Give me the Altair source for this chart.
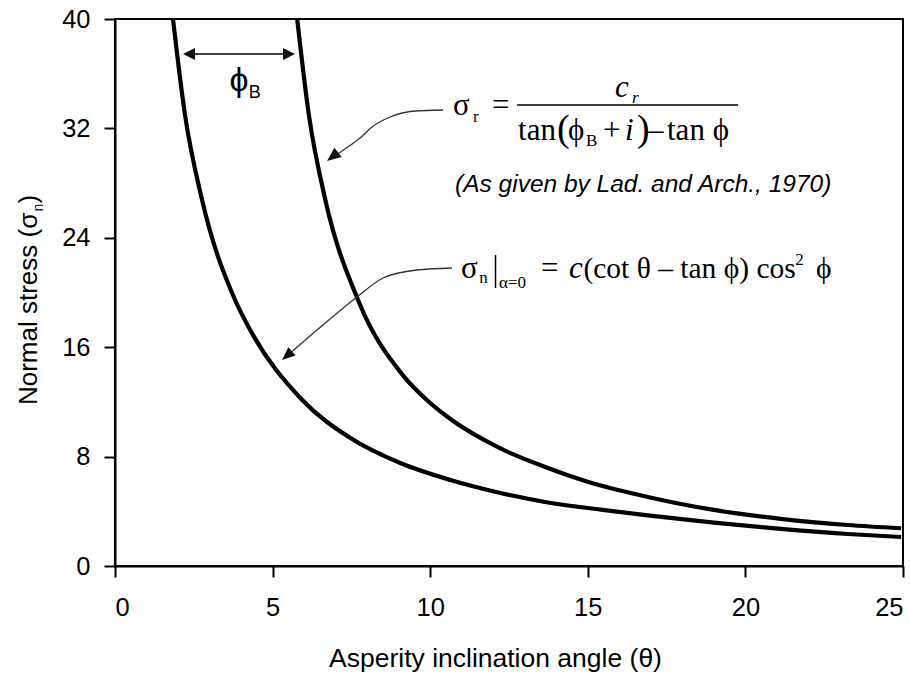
import altair as alt
import pandas as pd

# Normal stress, against asperity inclination angle (deg)
lower_theta = [1.84, 2.22, 2.76, 3.81, 4.29, 5.94, 7.47, 9.05, 10.64,
               12.23, 13.82, 15.41, 16.90, 19.00, 21.12, 23.25, 24.94]
lower_sigma = [40.0, 33.0, 26.8, 19.45, 17.26, 12.14, 9.36, 7.53, 6.29,
               5.34, 4.61, 4.12, 3.70, 3.17, 2.71, 2.34, 2.12]
upper_theta = [5.78, 6.15, 6.67, 7.72, 9.15, 9.91, 10.64, 12.23, 13.82,
               14.77, 15.41, 16.90, 19.00, 21.12, 23.25, 24.94]
upper_sigma = [40.0, 33.0, 26.8, 19.4, 13.9, 12.1, 10.75, 8.6, 7.1,
               6.33, 5.88, 5.05, 4.10, 3.45, 3.00, 2.76]

x_ticks = [0, 5, 10, 15, 20, 25]
y_ticks = [0, 8, 16, 24, 32, 40]

SANS = "Liberation Sans, Arial"
SERIF = "Liberation Serif, Times New Roman, DejaVu Serif"

x_enc = alt.X(
    "theta:Q",
    scale=alt.Scale(domain=[0, 25], nice=False, zero=False),
    axis=alt.Axis(
        values=x_ticks, title="Asperity inclination angle (θ)", grid=False,
        labelFont=SANS, labelFontSize=25.5, labelPadding=18, labelColor="black",
        titleFont=SANS, titleFontSize=26.5, titleFontWeight="normal", titleColor="black",
        titleX=380, titleY=100, titleAlign="center", titleBaseline="alphabetic",
        domainColor="black", domainWidth=2, tickColor="black", tickWidth=2, tickSize=11,
    ),
)
y_enc = alt.Y(
    "sigma:Q",
    scale=alt.Scale(domain=[0, 40], nice=False, zero=False),
    axis=alt.Axis(
        values=y_ticks, title=None, grid=False,
        labelFont=SANS, labelFontSize=25.5, labelPadding=14, labelColor="black",
        domainColor="black", domainWidth=2, tickColor="black", tickWidth=2, tickSize=11,
    ),
)

curve_df = pd.concat([
    pd.DataFrame({"theta": lower_theta, "sigma": lower_sigma, "curve": "lower"}),
    pd.DataFrame({"theta": upper_theta, "sigma": upper_sigma, "curve": "upper"}),
])

curves = alt.Chart(curve_df).mark_line(
    color="black", strokeWidth=4.2, interpolate="monotone", clip=True
).encode(x=x_enc, y=y_enc, detail="curve:N")


def pts(rows):
    return pd.DataFrame(rows, columns=["theta", "sigma"])


def texts(rows):
    return pd.DataFrame(rows, columns=["text", "theta", "sigma"])


def text_layer(rows, **style):
    style.setdefault("align", "left")
    style.setdefault("baseline", "alphabetic")
    style.setdefault("color", "black")
    return alt.Chart(texts(rows)).mark_text(**style).encode(x=x_enc, y=y_enc, text="text:N")


def head(theta, sigma, angle, size, path):
    return alt.Chart(pts([(theta, sigma)])).mark_point(
        shape=path, filled=True, size=size, angle=angle, color="#111", opacity=1,
        strokeWidth=0,
    ).encode(x=x_enc, y=y_enc)


HEAD = "M0,0 L-0.42,1 L0.42,1 Z"
WIDE_HEAD = "M0,0 L-0.5,1 L0.5,1 Z"

# phi_B spacing arrow between the two curves
phib_line = alt.Chart(pts([(2.35, 37.44), (5.52, 37.44)])).mark_line(
    color="black", strokeWidth=1.6
).encode(x=x_enc, y=y_enc)
phib_heads = head(2.157, 37.44, 270, 576, WIDE_HEAD) + head(5.711, 37.44, 90, 576, WIDE_HEAD)
phib_text = text_layer([("ϕ", 3.934, 35.47)], font="Liberation Sans", fontSize=34,
                       align="center", baseline="middle") + \
    text_layer([("B", 4.24, 34.22)], font="Liberation Sans", fontSize=18)

# curved leaders from the equations to the curves
leader1 = alt.Chart(pts([
    (10.406, 33.346), (9.518, 33.272), (8.725, 32.834), (8.154, 32.102),
    (7.773, 31.298), (7.297, 30.494), (6.80, 29.72),
])).mark_line(color="#333", strokeWidth=1.3, interpolate="monotone").encode(x=x_enc, y=y_enc)
leader2 = alt.Chart(pts([
    (10.692, 21.792), (9.581, 21.645), (8.503, 21.060), (7.678, 19.671),
    (6.409, 17.258), (5.40, 15.25),
])).mark_line(color="#333", strokeWidth=1.3, interpolate="monotone").encode(x=x_enc, y=y_enc)
heads = head(6.726, 29.616, 232, 784, HEAD) + head(5.298, 15.064, 229, 700, HEAD)

# sigma_r = c_r / (tan(phi_B + i) - tan phi)  and  sigma_n|alpha=0 = c(cot theta - tan phi) cos^2 phi
serif_main = text_layer([
    ("σ", 10.723, 32.98), ("=", 11.961, 32.98),
    ("tan", 12.786, 31.15), ("ϕ", 14.372, 31.15), ("+", 15.482, 31.15),
    ("–", 16.910, 31.15), ("tan ϕ", 17.513, 31.15),
    ("σ", 10.977, 21.06), ("=", 13.515, 21.06),
], font=SERIF, fontSize=31)
serif_eq2 = text_layer([
    ("(cot θ – tan ϕ) cos", 14.86, 21.06), ("ϕ", 22.240, 21.06),
], font=SERIF, fontSize=29.5)
serif_italic = text_layer([
    ("c", 15.863, 34.30), ("i", 16.180, 31.15), ("c", 14.40, 21.06),
], font=SERIF, fontSize=31, fontStyle="italic")
serif_sub_italic = text_layer([("r", 16.402, 33.86)], font=SERIF, fontSize=17, fontStyle="italic")
serif_sub = text_layer([
    ("r", 11.36, 32.47), ("B", 14.943, 30.71), ("n", 11.56, 20.69),
    ("α=0", 12.183, 20.33), ("2", 21.58, 22.01),
], font=SERIF, fontSize=17)
big_parens = text_layer([("(", 14.023, 31.08), (")", 16.561, 31.08)], font=SERIF, fontSize=38)

frac_bar = alt.Chart(pts([(12.754, 33.71), (19.765, 33.71)])).mark_line(
    color="black", strokeWidth=1.5).encode(x=x_enc, y=y_enc)
eval_bar = alt.Chart(pts([(12.072, 20.33), (12.072, 22.74)])).mark_line(
    color="black", strokeWidth=1.5).encode(x=x_enc, y=y_enc, order="sigma:Q")

note = text_layer([("(As given by Lad. and Arch., 1970)", 10.787, 27.35)],
                  font=SANS, fontSize=24.5, fontStyle="italic")

# y axis title with subscript
ytitle = text_layer([("Normal stress (σ", -2.475, 11.77)], font=SANS, fontSize=26,
                    angle=270) + \
    text_layer([("n", -2.30, 25.92)], font=SANS, fontSize=14, angle=270) + \
    text_layer([(")", -2.475, 26.50)], font=SANS, fontSize=26, angle=270)

chart = alt.layer(
    curves, phib_line, phib_heads, phib_text, leader1, leader2, heads,
    serif_main, serif_eq2, serif_italic, serif_sub_italic, serif_sub, big_parens,
    frac_bar, eval_bar, note, ytitle,
).properties(
    width=788, height=547,
    autosize=alt.AutoSizeParams(type="none"),
    padding={"left": 115, "top": 19, "right": 7, "bottom": 115},
    background="white",
).configure_view(stroke="black", strokeWidth=2)

chart.save("out.html", embed_options={"renderer": "svg", "actions": False})
